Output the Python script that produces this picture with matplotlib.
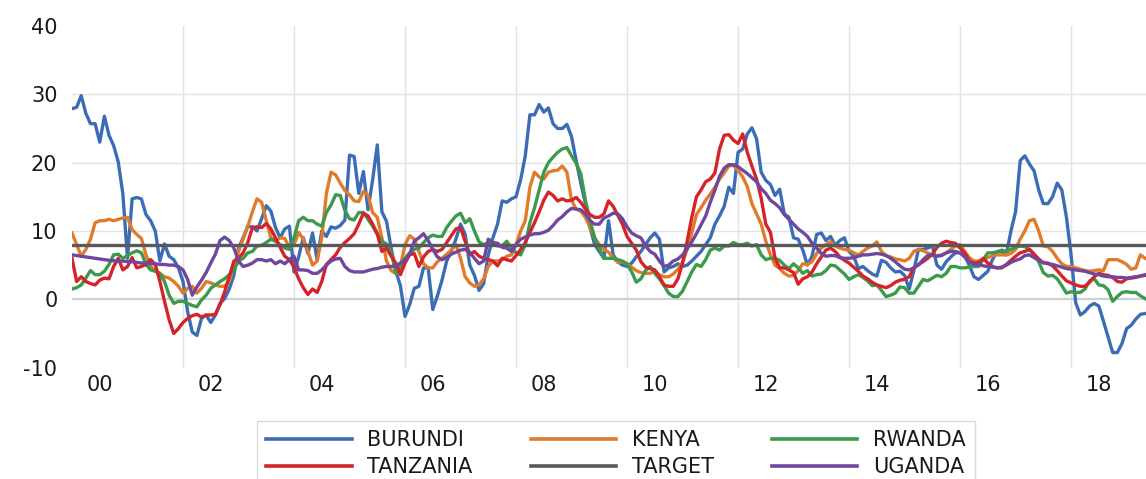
import numpy as np
import matplotlib
matplotlib.use("Agg")
import matplotlib.pyplot as plt
from matplotlib.lines import Line2D

# ---------------- data (monthly, starting mid-1999) ----------------
burundi = [27.9, 28.1, 29.8, 27.2, 25.7, 25.7, 23.0, 26.8, 24.0, 22.5, 20.1, 15.4, 6.0, 14.7, 14.9, 14.7, 12.4, 11.5, 10.0, 5.6,
           8.1, 6.3, 5.8, 4.6, 2.6, -1.8, -4.8, -5.3, -2.8, -2.3, -3.4, -2.3, -0.6, 0.1, 1.5, 3.5, 7.5, 9.0, 10.7,
           10.6, 10.0, 11.8, 13.7, 12.9, 10.5, 9.0, 10.3, 10.7, 4.0, 6.2, 9.0, 6.7, 9.7, 5.8, 10.0, 9.2, 10.6, 10.4, 10.8,
           11.6, 21.1, 20.9, 15.5, 18.7, 13.1, 17.5, 22.6, 12.8, 11.4, 7.5, 4.1, 2.0, -2.5, -0.8, 1.6, 1.9, 4.6,
           4.6, -1.5, 0.5, 2.8, 5.6, 7.0, 8.8, 11.0, 9.5, 5.0, 3.5, 1.3, 2.3, 6.5, 9.0, 11.0, 14.4, 14.2, 14.7, 15.0,
           17.5, 21.0, 27.0, 27.0, 28.5, 27.4, 28.0, 25.7, 25.0, 25.0, 25.6, 23.8, 20.3, 17.0, 14.0, 10.5, 8.0, 7.0,
           6.0, 11.5, 6.5, 5.5, 5.0, 4.8, 5.3, 6.2, 7.0, 8.0, 9.0, 9.7, 8.8, 4.0, 4.6, 4.8, 5.2, 4.8, 5.0, 5.6,
           6.3, 7.0, 8.0, 9.0, 11.0, 12.2, 13.6, 16.4, 15.5, 21.5, 22.0, 24.2, 25.1, 23.5, 18.6, 17.4, 16.8, 15.2, 16.1,
           12.5, 12.0, 9.0, 8.8, 7.2, 5.0, 6.3, 9.5, 9.7, 8.6, 9.2, 7.9, 8.6, 9.0, 7.0, 6.3, 4.5, 4.8, 4.2, 3.7,
           3.4, 5.7, 5.4, 4.6, 4.0, 4.1, 3.5, 1.5, 4.2, 7.3, 7.3, 7.5, 7.8, 5.0, 4.4, 5.5, 6.2, 6.8, 6.8,
           6.3, 5.0, 3.3, 2.9, 3.5, 4.1, 5.8, 7.0, 7.0, 6.5, 10.0, 12.8, 20.3, 21.0, 19.8, 18.8, 16.0, 14.0, 14.0, 15.0,
           17.0, 16.0, 12.0, 6.5, -0.5, -2.3, -1.8, -1.0, -0.6, -1.0, -3.2, -5.5, -7.8, -7.8, -6.5, -4.3, -3.8, -2.9, -2.2, -2.1]

kenya = [9.7, 8.0, 6.3, 7.3, 8.8, 11.2, 11.5, 11.5, 11.7, 11.5, 11.7, 11.9, 12.0, 10.2, 9.5, 8.9, 6.5, 4.8, 4.1, 3.8,
         3.3, 3.1, 2.6, 1.9, 0.9, 1.6, 1.9, 0.9, 1.6, 2.6, 2.4, 2.1, 1.9, 1.9, 2.6, 4.8, 7.0, 8.8, 10.7,
         12.8, 14.7, 14.2, 11.5, 9.0, 8.5, 9.0, 8.9, 7.6, 8.0, 9.8, 8.8, 7.0, 5.0, 5.6, 9.0, 15.5, 18.6, 18.2, 17.0,
         15.9, 15.3, 14.4, 14.3, 15.8, 15.2, 12.7, 12.0, 9.0, 5.6, 4.2, 3.8, 4.8, 8.0, 9.3, 8.8, 7.0, 5.2,
         4.6, 4.6, 5.5, 6.0, 6.6, 7.2, 8.0, 6.0, 3.3, 2.4, 1.9, 2.1, 3.0, 4.8, 5.6, 5.6, 5.8, 6.3, 6.5, 8.0,
         10.0, 11.5, 16.4, 18.6, 17.9, 17.6, 18.6, 18.8, 18.9, 19.5, 18.6, 14.5, 13.2, 12.9, 12.0, 10.5, 9.0, 8.0,
         7.3, 6.9, 6.1, 5.4, 5.5, 5.2, 4.7, 4.2, 3.9, 3.8, 3.8, 4.1, 3.6, 3.3, 3.3, 3.7, 4.4, 5.4, 7.3, 9.7,
         12.4, 13.4, 14.5, 15.4, 16.4, 17.6, 18.5, 19.5, 19.6, 18.9, 17.9, 16.5, 14.0, 12.5, 11.0, 8.5, 6.5, 5.0, 4.5,
         3.8, 3.4, 3.5, 4.2, 5.2, 5.1, 5.5, 6.7, 7.5, 8.0, 8.4, 7.8, 7.5, 7.3, 7.2, 6.8, 6.5, 7.0, 7.5, 7.8,
         8.4, 7.0, 6.4, 6.2, 5.9, 5.8, 5.6, 6.0, 7.0, 7.3, 7.1, 6.8, 6.4, 6.4, 6.5, 6.8, 7.3, 7.8, 8.0,
         7.0, 6.1, 5.6, 5.6, 5.8, 6.1, 6.4, 6.5, 6.5, 6.5, 6.7, 7.3, 8.8, 10.0, 11.5, 11.7, 10.0, 7.8, 7.7, 7.0,
         6.0, 5.2, 4.8, 4.8, 4.6, 4.4, 4.2, 4.1, 4.2, 4.3, 4.2, 5.8, 5.8, 5.8, 5.5, 5.1, 4.4, 4.6, 6.5, 6.0]

rwanda = [1.5, 1.7, 2.1, 3.1, 4.2, 3.6, 3.6, 4.1, 5.1, 6.5, 6.6, 6.0, 6.4, 6.8, 7.1, 6.8, 5.1, 4.3, 4.1, 3.8,
          2.6, 0.6, -0.6, -0.3, -0.3, -0.6, -0.9, -1.1, -0.1, 0.6, 1.6, 2.1, 2.6, 3.0, 3.6, 4.3, 5.6, 6.0, 6.8,
          7.0, 7.8, 7.9, 8.3, 8.8, 8.5, 8.0, 7.5, 7.3, 9.0, 11.5, 12.0, 11.5, 11.5, 11.0, 10.7, 12.7, 13.8, 15.3, 15.2,
          13.0, 11.8, 11.6, 12.7, 12.7, 11.7, 10.7, 9.5, 8.5, 8.1, 7.0, 3.8, 4.8, 6.0, 6.8, 7.3, 7.5, 8.3,
          9.0, 9.4, 9.2, 9.2, 10.5, 11.4, 12.2, 12.6, 11.2, 11.8, 10.0, 8.4, 8.0, 8.3, 8.4, 7.8, 7.8, 8.5, 7.5, 6.8,
          6.5, 8.0, 11.2, 13.4, 16.0, 18.6, 20.0, 20.8, 21.5, 22.0, 22.2, 21.0, 19.9, 18.4, 14.5, 11.5, 9.0, 7.5,
          6.0, 6.0, 6.0, 5.8, 5.6, 5.2, 4.0, 2.5, 3.0, 4.2, 4.8, 3.8, 3.0, 2.0, 0.9, 0.4, 0.4, 1.2, 2.6, 4.0,
          5.1, 4.8, 5.8, 7.2, 7.5, 7.2, 7.8, 7.8, 8.3, 8.0, 8.0, 8.2, 7.8, 8.0, 6.5, 5.8, 6.0, 6.0, 5.7,
          5.0, 4.5, 5.2, 4.6, 3.8, 4.2, 3.4, 3.6, 3.7, 4.2, 5.0, 4.9, 4.3, 3.7, 2.9, 3.3, 3.6, 3.2, 2.7, 2.0,
          2.1, 1.3, 0.4, 0.6, 0.9, 1.8, 1.7, 0.9, 0.9, 1.9, 2.9, 2.7, 3.1, 3.5, 3.3, 3.8, 4.8, 4.8, 4.6,
          4.6, 4.7, 4.8, 4.8, 5.8, 6.8, 6.8, 6.9, 7.2, 7.0, 7.3, 7.6, 7.8, 7.7, 7.3, 6.6, 5.5, 3.9, 3.4, 3.5,
          3.0, 2.0, 0.9, 1.1, 1.0, 1.0, 1.5, 2.7, 3.0, 2.1, 2.0, 1.4, -0.3, 0.4, 1.0, 1.1, 1.0, 1.0, 0.5, 0.1]

tanzania = [6.0, 2.6, 3.3, 2.6, 2.3, 2.1, 2.8, 3.1, 3.0, 4.8, 6.0, 4.3, 4.8, 6.1, 4.6, 4.8, 5.1, 5.8, 5.1, 2.6,
            -0.3, -3.0, -5.0, -4.3, -3.4, -2.8, -2.4, -2.2, -2.6, -2.3, -2.3, -2.2, -0.8, 1.1, 3.3, 5.6, 6.0, 6.8, 8.3,
            10.5, 10.6, 10.5, 11.1, 10.3, 9.0, 7.6, 6.3, 5.8, 4.7, 3.0, 1.7, 0.7, 1.5, 1.0, 2.6, 5.1, 5.8, 6.5, 7.6,
            8.3, 8.9, 9.6, 11.0, 12.6, 12.2, 11.0, 9.6, 7.0, 7.5, 6.3, 5.3, 3.6, 5.3, 6.5, 6.7, 4.8, 6.2,
            7.0, 7.3, 7.0, 7.3, 8.3, 9.3, 10.3, 10.5, 8.5, 6.5, 7.0, 6.3, 6.0, 5.8, 5.6, 4.9, 6.0, 5.8, 5.6, 6.4,
            7.3, 8.3, 9.8, 11.2, 12.8, 14.5, 15.7, 15.2, 14.4, 14.7, 14.4, 14.5, 14.9, 14.2, 13.2, 12.4, 12.0, 12.0,
            12.5, 14.4, 13.6, 12.3, 11.0, 9.2, 8.2, 7.2, 5.5, 4.7, 4.5, 4.3, 3.3, 2.1, 1.9, 1.9, 3.0, 5.3, 8.5, 12.0,
            15.0, 16.0, 17.2, 17.6, 18.5, 22.0, 24.0, 24.1, 23.3, 22.8, 24.2, 21.5, 19.5, 17.6, 14.8, 11.0, 9.8, 6.0, 4.6,
            4.6, 4.3, 3.9, 2.2, 3.0, 3.3, 4.0, 5.2, 6.2, 7.2, 7.5, 7.0, 6.2, 5.7, 5.3, 4.7, 4.1, 3.4, 3.0, 2.5,
            2.1, 1.9, 1.7, 2.0, 2.5, 2.8, 2.9, 3.3, 4.6, 5.1, 5.5, 6.0, 6.6, 7.6, 8.2, 8.5, 8.3, 8.2, 7.5,
            6.8, 5.6, 5.3, 5.4, 6.0, 5.3, 4.8, 4.6, 4.6, 5.1, 5.7, 6.3, 6.8, 7.0, 7.3, 6.6, 5.9, 5.3, 5.3, 4.9,
            4.2, 3.4, 2.7, 2.4, 2.1, 1.9, 1.9, 2.5, 3.3, 3.8, 3.6, 3.5, 3.2, 2.6, 2.5, 3.0, 3.1, 3.2, 3.4, 3.5]

uganda = [6.5, 6.4, 6.3, 6.2, 6.1, 6.0, 5.9, 5.8, 5.7, 5.65, 5.6, 5.6, 5.5, 5.5, 5.4, 5.3, 5.3, 5.2, 5.2, 5.1,
          5.1, 5.0, 5.0, 4.8, 4.3, 2.9, 0.6, 1.8, 2.8, 3.9, 5.3, 6.6, 8.6, 9.1, 8.6, 7.5, 5.6, 4.8, 5.0,
          5.3, 5.8, 5.8, 5.6, 5.8, 5.2, 5.6, 5.2, 5.8, 6.3, 4.3, 4.3, 4.2, 3.8, 3.8, 4.3, 5.0, 5.6, 5.9, 6.0,
          4.8, 4.2, 4.0, 4.0, 4.0, 4.2, 4.4, 4.5, 4.7, 4.8, 4.8, 4.9, 5.3, 5.8, 6.6, 8.5, 9.0, 9.6,
          8.6, 7.3, 6.2, 5.8, 6.1, 6.6, 6.9, 7.2, 7.3, 6.9, 6.0, 5.2, 5.6, 8.8, 8.3, 8.2, 7.6, 7.5, 7.0, 8.0,
          8.8, 9.1, 9.4, 9.6, 9.6, 9.8, 10.1, 10.8, 11.6, 12.1, 12.8, 13.3, 13.2, 13.1, 12.5, 11.5, 11.0, 11.0,
          11.9, 12.2, 12.6, 12.5, 11.8, 10.6, 9.7, 9.3, 9.0, 7.8, 7.0, 6.6, 5.6, 4.8, 5.0, 5.6, 5.9, 6.5, 7.4, 8.4,
          9.6, 10.9, 12.2, 14.2, 16.0, 18.0, 19.2, 19.7, 19.7, 19.4, 18.9, 18.4, 17.8, 17.2, 16.2, 15.5, 14.5, 14.0, 13.4,
          12.4, 11.7, 11.0, 10.3, 9.8, 9.2, 8.2, 7.5, 6.7, 6.3, 6.4, 6.4, 6.1, 6.0, 6.0, 6.1, 6.3, 6.5, 6.5, 6.6,
          6.7, 6.6, 6.4, 6.0, 5.5, 4.9, 4.4, 4.3, 4.6, 5.0, 5.8, 6.4, 6.5, 6.3, 6.4, 6.8, 7.0, 7.0, 6.8,
          6.2, 5.5, 5.1, 5.1, 4.9, 4.8, 4.7, 4.6, 4.7, 5.0, 5.4, 5.7, 5.9, 6.4, 6.5, 6.1, 5.7, 5.4, 5.2, 5.1,
          4.9, 4.7, 4.5, 4.4, 4.3, 4.2, 4.1, 3.9, 3.7, 3.6, 3.4, 3.3, 3.3, 3.2, 3.2, 3.1, 3.2, 3.3, 3.4, 3.6]

target_value = 8
year_labels = ["00", "02", "04", "06", "08", "10", "12", "14", "16", "18"]
series_names = ["BURUNDI", "KENYA", "RWANDA", "TANZANIA", "TARGET", "UGANDA"]
y_ticks = [-10, 0, 10, 20, 30, 40]

# ---------------- styling ----------------
colors = {"BURUNDI": "#3b6db5", "KENYA": "#e07b2a", "RWANDA": "#3c9a4b",
          "TANZANIA": "#d5232a", "TARGET": "#595959", "UGANDA": "#6f479f"}

plt.rcParams["font.family"] = ["DejaVu Sans"]
plt.rcParams["axes.unicode_minus"] = False

W, H = 1146, 479
fig = plt.figure(figsize=(W / 100, H / 100), dpi=100)
left, right, top, bottom = 72, 1146, 26, 367.6
ax = fig.add_axes([left / W, 1 - bottom / H, (right - left) / W, (bottom - top) / H])

n = len(burundi)
for s in (kenya, rwanda, tanzania, uganda):
    assert len(s) == n, len(s)
x = np.arange(n)
target = [target_value] * n

ax.set_xlim(0, 232.2)
ax.set_ylim(-10, 40)

# gridlines
for g in range(24, n, 24):
    ax.axvline(g, color="#e3e3e3", lw=1.0, zorder=0)
for v in (10, 20, 30):
    ax.axhline(v, color="#e3e3e3", lw=1.0, zorder=0)
ax.axhline(0, color="#cfcfcf", lw=1.6, zorder=0.5)

data = {"BURUNDI": burundi, "KENYA": kenya, "RWANDA": rwanda,
        "TANZANIA": tanzania, "TARGET": target, "UGANDA": uganda}
for name in series_names:
    ax.plot(x, data[name], color=colors[name], lw=2.4,
            solid_joinstyle="round", label=name, zorder=2)

for sp in ax.spines.values():
    sp.set_visible(False)

ax.set_yticks(y_ticks)
ax.set_yticklabels([str(v) for v in y_ticks])
label_pos = [6 + 24 * k for k in range(len(year_labels))]
ax.set_xticks(label_pos)
ax.set_xticklabels(year_labels)
ax.tick_params(axis="y", length=0, pad=10.5, labelsize=15, labelcolor="#1a1a1a")
ax.tick_params(axis="x", length=0, pad=5.0, labelsize=15, labelcolor="#1a1a1a")

order = ["BURUNDI", "TANZANIA", "KENYA", "TARGET", "RWANDA", "UGANDA"]
leg = fig.legend([Line2D([], [], color=colors[k], lw=2.6) for k in order], order,
                 loc="upper left", ncol=3, mode="expand",
                 bbox_to_anchor=(257 / W, 0.0, (975 - 257) / W, 1 - 421 / H),
                 bbox_transform=fig.transFigure, borderaxespad=0,
                 fontsize=15, handlelength=4.1, handletextpad=0.75,
                 labelspacing=0.34, borderpad=0.45, columnspacing=2.0,
                 frameon=True, fancybox=False, framealpha=1)
leg.get_frame().set_edgecolor("#d9d9d9")
leg.get_frame().set_linewidth(1.0)
for t in leg.get_texts():
    t.set_color("#1a1a1a")

fig.savefig("out.png", dpi=100)
